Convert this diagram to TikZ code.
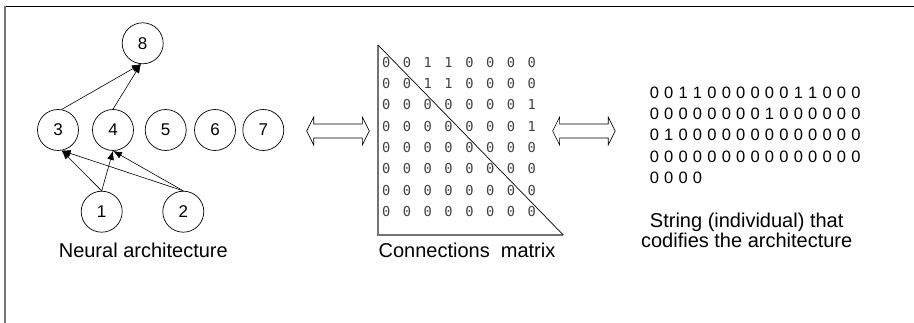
\documentclass[tikz,border=0pt]{standalone}
\usepackage{fontspec}
\usetikzlibrary{arrows.meta}
\newfontfamily\labfont{Liberation Sans}
\newfontfamily\monofont{DejaVu Sans Mono}
\newcommand\spreadrow[2]{\def\sprw{#1}\xsprd#2\relax}
\def\xsprd#1{\ifx#1\relax\else\makebox[\sprw][c]{#1}\expandafter\xsprd\fi}
\tikzset{
  neuron/.style={circle, draw, line width=0.7pt, minimum size=41pt, inner sep=0pt, font=\labfont\fontsize{17}{17}\selectfont},
  link/.style={line width=0.6pt, -{Latex[length=9pt,width=7pt]}},
  caption/.style={font=\labfont\fontsize{20}{20}\selectfont, inner sep=0pt, anchor=base, align=center},
  matrow/.style={font=\monofont\fontsize{13.7}{14}\selectfont, text=black!75, inner sep=0pt, anchor=west},
  strrow/.style={font=\labfont\fontsize{16.5}{16}\selectfont, inner sep=0pt, anchor=west},
  dblarrow/.pic={\draw[line width=0.6pt] (-31.3,0) -- (-24.3,-14) -- (-24.3,-7) -- (24.3,-7) -- (24.3,-14) -- (31.3,0) -- (24.3,14) -- (24.3,7) -- (-24.3,7) -- (-24.3,14) -- cycle;}
}
\begin{document}
\begin{tikzpicture}[x=1pt,y=-1pt]
\useasboundingbox (0,0) rectangle (914,323);
% frame
\draw[line width=0.8pt] (5,6) -- (914,6);
\draw[line width=1.5pt, black!55] (5,6) -- (5,323);
% neural architecture
\node[neuron] (n8) at (142.7,43.3) {8};
\node[neuron] (n3) at (58,130) {3};
\node[neuron] (n4) at (113,130) {4};
\node[neuron] (n5) at (165.7,130) {5};
\node[neuron] (n6) at (215,130) {6};
\node[neuron] (n7) at (263.3,130) {7};
\node[neuron] (n1) at (101.7,211.7) {1};
\node[neuron] (n2) at (183.3,211.7) {2};
\draw[link] (n3.80) -- (n8.265);
\draw[link] (n4.north) -- (n8.265);
\draw[link] (n1.north) -- (n3.280);
\draw[link] (n1.north) -- (n4.south);
\draw[link] (n2.north) -- (n3.280);
\draw[link] (n2.north) -- (n4.south);
\node[caption] (lab1) at (143.3,258) {Neural architecture};
% double arrows
\pic at (338,131) {dblarrow};
\pic at (583.9,131) {dblarrow};
% connection matrix
\draw[line width=1.4pt, black!55] (378,45) -- (378,235) -- (563.3,235);
\draw[line width=0.7pt] (378,45) -- (563.3,235);
\node[matrow] (r1) at (375.6,62.3) {\spreadrow{20.8pt}{00110000}};
\node[matrow] (r2) at (375.6,83.6) {\spreadrow{20.8pt}{00110000}};
\node[matrow] (r3) at (375.6,104.9) {\spreadrow{20.8pt}{00000001}};
\node[matrow] (r4) at (375.6,126.2) {\spreadrow{20.8pt}{00000001}};
\node[matrow] (r5) at (375.6,147.5) {\spreadrow{20.8pt}{00000000}};
\node[matrow] (r6) at (375.6,168.8) {\spreadrow{20.8pt}{00000000}};
\node[matrow] (r7) at (375.6,190.1) {\spreadrow{20.8pt}{00000000}};
\node[matrow] (r8) at (375.6,211.4) {\spreadrow{20.8pt}{00000000}};
\node[caption] (lab2) at (467,258) {Connections\ \ matrix};
% string
\node[strrow] (s1) at (647,92.5) {\spreadrow{14.4pt}{001100000011000}};
\node[strrow] (s2) at (647,113.9) {\spreadrow{14.4pt}{000000001000000}};
\node[strrow] (s3) at (647,135.3) {\spreadrow{14.4pt}{010000000000000}};
\node[strrow] (s4) at (647,156.7) {\spreadrow{14.4pt}{000000000000000}};
\node[strrow] (s5) at (647,178.1) {\spreadrow{14.4pt}{0000}};
\node[caption] (lab3) at (746.7,248) {String (individual) that\\codifies the architecture};
\end{tikzpicture}
\end{document}
